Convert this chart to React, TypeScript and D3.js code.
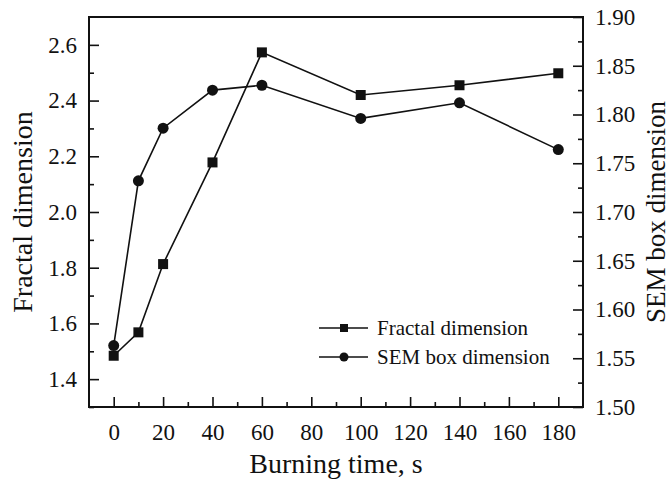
import React, { useEffect, useRef } from 'react';
import * as d3 from 'd3';

// burning time (s)
const TIMES = [0, 10, 20, 40, 60, 100, 140, 180];
const FRACTAL = [1.484, 1.568, 1.813, 2.178, 2.573, 2.42, 2.455, 2.498];
const SEM_BOX = [1.563, 1.732, 1.786, 1.825, 1.83, 1.796, 1.812, 1.764];

const X_TICKS = [0, 20, 40, 60, 80, 100, 120, 140, 160, 180];
const X_MINOR = [10, 30, 50, 70, 90, 110, 130, 150, 170];
const LEFT_TICKS = [1.4, 1.6, 1.8, 2.0, 2.2, 2.4, 2.6];
const LEFT_MINOR = [1.3, 1.5, 1.7, 1.9, 2.1, 2.3, 2.5];
const RIGHT_TICKS = [1.5, 1.55, 1.6, 1.65, 1.7, 1.75, 1.8, 1.85, 1.9];
const RIGHT_MINOR = [1.525, 1.575, 1.625, 1.675, 1.725, 1.775, 1.825, 1.875];

const SERIES_NAMES = ['Fractal dimension', 'SEM box dimension'];

const FONT = "'Liberation Serif', 'Times New Roman', serif";
const INK = '#111';

const App: React.FC = () => {
  const svgRef = useRef<SVGSVGElement>(null);

  useEffect(() => {
    if (!svgRef.current) return;
    const width = 671;
    const height = 482;
    const margin = { top: 17, right: 88, bottom: 75, left: 89 };
    const innerW = width - margin.left - margin.right;
    const innerH = height - margin.top - margin.bottom;

    const svg = d3.select(svgRef.current);
    svg.selectAll('*').remove();
    svg.attr('width', width).attr('height', height);

    const g = svg.append('g').attr('transform', `translate(${margin.left},${margin.top})`);

    const x = d3.scaleLinear().domain([-10, 190]).range([0, innerW]);
    const yL = d3.scaleLinear().domain([1.3, 2.7]).range([innerH, 0]);
    const yR = d3.scaleLinear().domain([1.5, 1.9]).range([innerH, 0]);

    const styleAxis = (sel: d3.Selection<SVGGElement, unknown, null, undefined>) => {
      sel.select('.domain').remove();
      sel.selectAll('line').attr('stroke', INK).attr('stroke-width', 1.6);
      sel.selectAll('text').attr('font-family', FONT).attr('font-size', '23px').attr('fill', INK);
    };

    // bottom axis (ticks inward)
    g.append('g')
      .attr('transform', `translate(0,${innerH})`)
      .call(d3.axisBottom(x).tickValues(X_TICKS).tickSize(-10).tickPadding(17).tickFormat(d3.format('d')))
      .call(styleAxis);
    g.append('g')
      .attr('transform', `translate(0,${innerH})`)
      .call(d3.axisBottom(x).tickValues(X_MINOR).tickSize(-5).tickFormat(() => ''))
      .call(styleAxis);

    // left axis
    g.append('g')
      .call(d3.axisLeft(yL).tickValues(LEFT_TICKS).tickSize(-10).tickPadding(12).tickFormat(d3.format('.1f')))
      .call(styleAxis);
    g.append('g')
      .call(d3.axisLeft(yL).tickValues(LEFT_MINOR).tickSize(-5).tickFormat(() => ''))
      .call(styleAxis);

    // right axis
    g.append('g')
      .attr('transform', `translate(${innerW},0)`)
      .call(d3.axisRight(yR).tickValues(RIGHT_TICKS).tickSize(-10).tickPadding(12).tickFormat(d3.format('.2f')))
      .call(styleAxis);
    g.append('g')
      .attr('transform', `translate(${innerW},0)`)
      .call(d3.axisRight(yR).tickValues(RIGHT_MINOR).tickSize(-5).tickFormat(() => ''))
      .call(styleAxis);

    // frame
    g.append('rect')
      .attr('width', innerW)
      .attr('height', innerH)
      .attr('fill', 'none')
      .attr('stroke', INK)
      .attr('stroke-width', 2);

    const lineL = d3
      .line<number>()
      .x((_, i) => x(TIMES[i]))
      .y((d) => yL(d));
    const lineR = d3
      .line<number>()
      .x((_, i) => x(TIMES[i]))
      .y((d) => yR(d));

    g.append('path').attr('d', lineL(FRACTAL)).attr('fill', 'none').attr('stroke', INK).attr('stroke-width', 1.6);
    g.append('path').attr('d', lineR(SEM_BOX)).attr('fill', 'none').attr('stroke', INK).attr('stroke-width', 1.6);

    const sq = 10;
    g.selectAll('rect.sq')
      .data(FRACTAL)
      .join('rect')
      .attr('class', 'sq')
      .attr('x', (_, i) => x(TIMES[i]) - sq / 2)
      .attr('y', (d) => yL(d) - sq / 2)
      .attr('width', sq)
      .attr('height', sq)
      .attr('fill', INK);

    g.selectAll('circle.pt')
      .data(SEM_BOX)
      .join('circle')
      .attr('class', 'pt')
      .attr('cx', (_, i) => x(TIMES[i]))
      .attr('cy', (d) => yR(d))
      .attr('r', 5.5)
      .attr('fill', INK);

    // axis titles
    svg
      .append('text')
      .attr('x', margin.left + innerW / 2)
      .attr('y', 473)
      .attr('text-anchor', 'middle')
      .attr('font-family', FONT)
      .attr('font-size', '28px')
      .attr('fill', INK)
      .text('Burning time, s');

    svg
      .append('text')
      .attr('transform', `translate(32,${margin.top + innerH / 2}) rotate(-90)`)
      .attr('text-anchor', 'middle')
      .attr('font-family', FONT)
      .attr('font-size', '28px')
      .attr('fill', INK)
      .text('Fractal dimension');

    svg
      .append('text')
      .attr('transform', `translate(665,${margin.top + innerH / 2}) rotate(-90)`)
      .attr('text-anchor', 'middle')
      .attr('font-family', FONT)
      .attr('font-size', '27px')
      .attr('fill', INK)
      .text('SEM box dimension');

    // legend
    const legend = svg.append('g').attr('transform', 'translate(319,328)');
    SERIES_NAMES.forEach((name, i) => {
      const lg = legend.append('g').attr('transform', `translate(0,${i * 29})`);
      lg.append('line').attr('x1', 0).attr('x2', 49).attr('stroke', INK).attr('stroke-width', 1.6);
      if (i === 0) {
        lg.append('rect').attr('x', 21).attr('y', -4).attr('width', 8).attr('height', 8).attr('fill', INK);
      } else {
        lg.append('circle').attr('cx', 25).attr('r', 4.5).attr('fill', INK);
      }
      lg.append('text')
        .attr('x', 58)
        .attr('y', 7)
        .attr('font-family', FONT)
        .attr('font-size', '21px')
        .attr('fill', INK)
        .text(name);
    });
  }, []);

  return (
    <div style={{ position: 'absolute', left: 0, top: 0 }}>
      <svg ref={svgRef} role="img" aria-label="Fractal dimension and SEM box dimension versus burning time" />
    </div>
  );
};

export default App;
